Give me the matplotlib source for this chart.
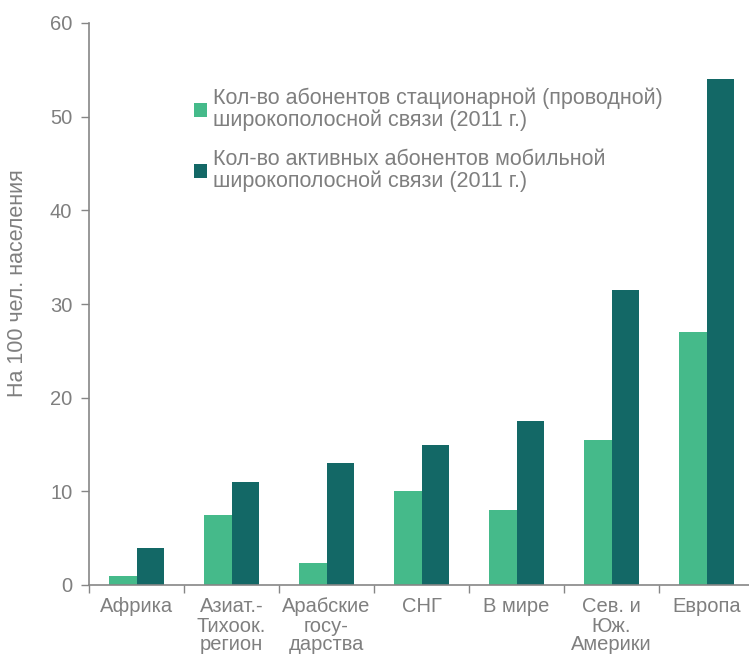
import numpy as np
import matplotlib.pyplot as plt

plt.rcParams['font.family'] = ['Liberation Sans', 'DejaVu Sans']

# данные
regions = ["Африка", "Азиат.-\nТихоок.\nрегион", "Арабские\nгосу-\nдарства", "СНГ",
           "В мире", "Сев. и\nЮж.\nАмерики", "Европа"]
fixed_bb = [1.0, 7.5, 2.3, 10.0, 8.0, 15.5, 27.0]
mobile_bb = [4.0, 11.0, 13.0, 15.0, 17.5, 31.5, 54.0]
labels = ["Кол-во абонентов стационарной (проводной)\nширокополосной связи (2011 г.)",
          "Кол-во активных абонентов мобильной\nширокополосной связи (2011 г.)"]

green = '#45ba8a'
dark = '#136866'
grey = '#7f7f7f'
axis_grey = '#868686'

W, H = 749, 657
fig = plt.figure(figsize=(W / 100, H / 100), dpi=100)
ax = fig.add_axes([89 / W, 1 - 585 / H, 665 / W, (585 - 23) / H])

x = np.arange(len(regions))
w = 0.285
ax.bar(x - w / 2, fixed_bb, width=w, color=green, label=labels[0])
ax.bar(x + w / 2, mobile_bb, width=w, color=dark, label=labels[1])

ax.set_xlim(-0.5, len(regions) - 0.5)
ax.set_ylim(0, 60)
ax.set_yticks(range(0, 61, 10))

ax.set_xticks(x)
ax.set_xticklabels(regions, linespacing=1.0)
ax.set_xticks(np.arange(len(regions)) - 0.5, minor=True)
ax.tick_params(axis='x', which='major', length=0, pad=9, labelsize=14.5, labelcolor=grey)
ax.tick_params(axis='x', which='minor', length=6, width=1, color=axis_grey, direction='out')
ax.tick_params(axis='y', length=6, width=1, color=axis_grey, labelsize=14.5, labelcolor=grey, pad=6)

for s in ['top', 'right']:
    ax.spines[s].set_visible(False)
for s in ['left', 'bottom']:
    ax.spines[s].set_color(axis_grey)
    ax.spines[s].set_linewidth(1.2)

fig.text(18 / W, 1 - 283 / H, "На 100 чел. населения", rotation=90, ha='center', va='center',
         fontsize=15.5, color=grey)

leg = ax.legend(loc='upper left', bbox_to_anchor=(185 / W, 1 - 79 / H), bbox_transform=fig.transFigure,
                frameon=False, fontsize=15.5, labelcolor=grey, handlelength=0.6, handleheight=0.6,
                handletextpad=0.3, labelspacing=0.8, borderaxespad=0)
for t in leg.get_texts():
    t.set_linespacing(1.05)

fig.savefig("out.png", dpi=100)
